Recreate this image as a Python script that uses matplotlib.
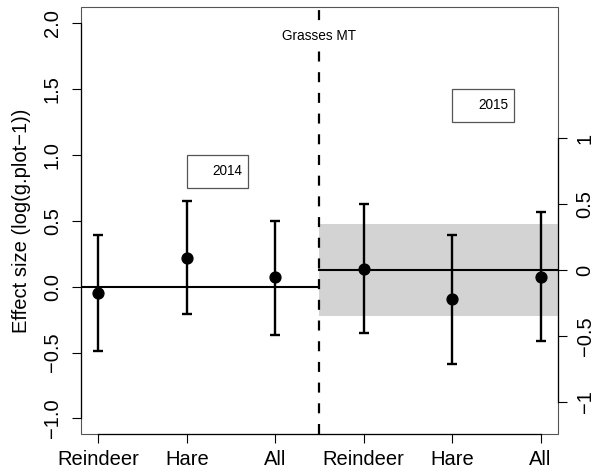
import matplotlib
matplotlib.use("Agg")
import matplotlib.pyplot as plt
from matplotlib.patches import Rectangle

plt.rcParams["font.family"] = ["Liberation Sans", "DejaVu Sans"]
plt.rcParams["lines.scale_dashes"] = False

# Effect sizes with 95% intervals, per herbivore group
sites = ["Reindeer", "Hare", "All"]
est_2014 = [-0.05, 0.22, 0.07]
lo_2014 = [-0.49, -0.21, -0.37]
hi_2014 = [0.39, 0.65, 0.50]

est_2015 = [0.01, -0.22, -0.05]
lo_2015 = [-0.48, -0.71, -0.54]
hi_2015 = [0.50, 0.27, 0.44]

# Shaded reference band for 2015 (right-hand scale)
band_2015 = [-0.35, 0.35]

x_2014 = [1, 2, 3]
x_2015 = [4, 5, 6]
split_x = 3.5

left_ticks = [-1.0, -0.5, 0.0, 0.5, 1.0, 1.5, 2.0]
right_ticks = [-1, -0.5, 0, 0.5, 1]

fig = plt.figure(figsize=(5.94, 4.74), dpi=100)
ax = fig.add_axes([80.7 / 594, 1 - 434.3 / 474, (558.3 - 80.7) / 594, (434.3 - 7.3) / 474])
ax.set_xlim(0.8, 6.2)
ax.set_ylim(-1.12, 2.12)
ax2 = ax.twinx()
ax2.set_ylim(-1.245, 1.995)

lw_bar = 1.7
err_kw = dict(fmt="o", color="black", ecolor="black", elinewidth=lw_bar,
              capsize=3.9, capthick=lw_bar, markersize=7.8, zorder=4)

# 2014 on the left scale
ax.plot([0.8, split_x], [0, 0], color="black", lw=1.5, zorder=3)
ax.errorbar(x_2014, est_2014,
            yerr=[[e - l for e, l in zip(est_2014, lo_2014)],
                  [h - e for e, h in zip(est_2014, hi_2014)]], **err_kw)

# 2015 on the right scale
ax2.fill_between([split_x, 6.2], band_2015[0], band_2015[1],
                 color="#d3d3d3", lw=0, zorder=1)
ax2.plot([split_x, 6.2], [0, 0], color="black", lw=1.5, zorder=3)
ax2.errorbar(x_2015, est_2015,
             yerr=[[e - l for e, l in zip(est_2015, lo_2015)],
                   [h - e for e, h in zip(est_2015, hi_2015)]], **err_kw)

ax2.axvline(split_x, color="black", lw=1.6, linestyle=(0, (7.2, 7.7)), zorder=5)
ax2.text(split_x, 0.933, "Grasses MT", transform=ax2.get_xaxis_transform(),
         ha="center", va="center", fontsize=9.8, zorder=6,
         bbox=dict(facecolor="white", edgecolor="none", pad=1.5))

# Year labels in small boxes
for (x0, x1, y0, y1, label) in [(2.0, 2.695, 0.75, 1.0, "2014"),
                                (5.0, 5.70, 1.25, 1.5, "2015")]:
    ax.add_patch(Rectangle((x0, y0), x1 - x0, y1 - y0, facecolor="white",
                           edgecolor="#555555", lw=0.9, zorder=6))
    ax.text(x1 - 0.065, (y0 + y1) / 2, label, ha="right", va="center",
            fontsize=9.8, zorder=7)

# Axes, ticks and labels
for a in (ax, ax2):
    for s in a.spines.values():
        s.set_visible(False)
ax.add_patch(Rectangle((0, 0), 1, 1, transform=ax.transAxes, fill=False,
                       edgecolor="#555555", lw=0.8, clip_on=False, zorder=8))
ax.spines["left"].set_visible(True)
ax.spines["left"].set_bounds(left_ticks[0], left_ticks[-1])
ax.spines["bottom"].set_visible(True)
ax.spines["bottom"].set_bounds(1, 6)
ax2.spines["right"].set_visible(True)
ax2.spines["right"].set_bounds(right_ticks[0], right_ticks[-1])
for s in (ax.spines["left"], ax.spines["bottom"], ax2.spines["right"]):
    s.set_linewidth(0.9)
    s.set_color("black")
    s.set_zorder(9)

ax.set_xticks(x_2014 + x_2015)
ax.set_xticklabels(sites + sites, fontsize=14.5)
ax.set_yticks(left_ticks)
ax.set_yticklabels([f"{v:.1f}".replace("-", "\u2212") for v in left_ticks],
                   fontsize=14.5)
ax2.set_yticks(right_ticks)
ax2.set_yticklabels([f"{v:g}".replace("-", "\u2212") for v in right_ticks],
                    fontsize=14.5)

ax.tick_params(axis="x", length=6.5, width=0.8, pad=5)
ax.tick_params(axis="y", length=6.5, width=0.8, pad=7)
ax2.tick_params(axis="y", length=6.5, width=0.8, pad=6)
for t in ax.get_yticklabels():
    t.set_rotation(90)
    t.set_va("center")
    t.set_ha("right")
for t in ax2.get_yticklabels():
    t.set_rotation(90)
    t.set_va("center")
    t.set_ha("left")

fig.text(22 / 594, 1 - 220.8 / 474, "Effect size (log(g.plot\u22121))",
         rotation=90, ha="center", va="center", fontsize=14.5)

fig.savefig("out.png", dpi=100)
